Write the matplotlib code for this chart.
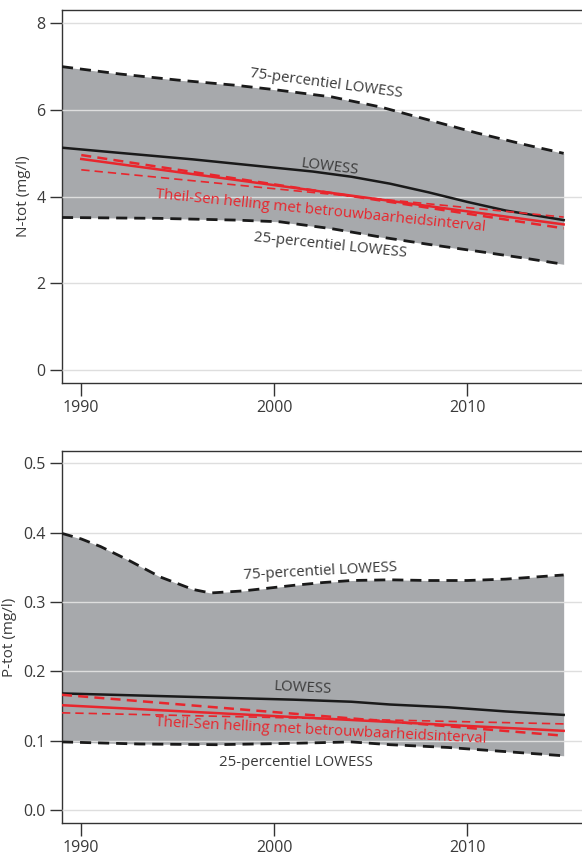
import numpy as np
import matplotlib.pyplot as plt

plt.rcParams['font.family'] = ['Open Sans', 'DejaVu Sans']

# N-tot (mg/l)
n_years_hi = [1989, 1992, 1995, 1998, 2000, 2003, 2005.5, 2008, 2010.5, 2013, 2015]
n_p75 = [7.0, 6.83, 6.69, 6.57, 6.47, 6.30, 6.07, 5.77, 5.47, 5.2, 5.0]
n_years_mid = [1989, 1992, 1995.8, 2000, 2002, 2004, 2006, 2008, 2010, 2012, 2015]
n_lowess = [5.13, 5.01, 4.86, 4.67, 4.58, 4.46, 4.30, 4.10, 3.88, 3.68, 3.46]
n_years_lo = [1989, 1994, 1998, 2000.3, 2003, 2005.5, 2008, 2010.7, 2013, 2015]
n_p25 = [3.52, 3.50, 3.46, 3.42, 3.26, 3.07, 2.9, 2.73, 2.58, 2.44]
n_ts_years = [1990, 2015]
n_ts = [4.87, 3.36]
n_ts_a = [4.96, 3.27]
n_ts_b = [4.62, 3.53]

# P-tot (mg/l)
p_years_hi = [1989, 1990, 1991, 1992.4, 1994.1, 1995.8, 1996.7, 1998.4, 2001, 2002.5,
              2004, 2006, 2008, 2010, 2012, 2015]
p_p75 = [0.399, 0.391, 0.380, 0.361, 0.336, 0.318, 0.313, 0.316, 0.324, 0.328,
         0.331, 0.332, 0.331, 0.331, 0.333, 0.339]
p_years_mid = [1989, 1993, 1997, 2001, 2004, 2006, 2009, 2012, 2015]
p_lowess = [0.168, 0.165, 0.162, 0.159, 0.156, 0.152, 0.148, 0.142, 0.137]
p_years_lo = [1989, 1993, 1997, 2001, 2004, 2006, 2009, 2012, 2015]
p_p25 = [0.098, 0.095, 0.094, 0.096, 0.098, 0.094, 0.090, 0.084, 0.078]
p_ts_years = [1989, 2015]
p_ts = [0.151, 0.114]
p_ts_a = [0.166, 0.107]
p_ts_b = [0.140, 0.124]

GREY = '#a7a9ac'
RED = '#e8262d'
TXT = '#3a3a3a'
FS = 10.8


def panel(ax, yr_hi, p75, yr_mid, low, yr_lo, p25, ts_yrs, ts, ts_a, ts_b):
    grid = np.linspace(1989, 2015, 300)
    hi = np.interp(grid, yr_hi, p75)
    lo = np.interp(grid, yr_lo, p25)
    ax.fill_between(grid, lo, hi, color=GREY, lw=0, zorder=1)
    ax.plot(yr_hi, p75, color='#1a1a1a', lw=2, ls=(0, (4, 2.5)), zorder=3)
    ax.plot(yr_lo, p25, color='#1a1a1a', lw=2, ls=(0, (4, 2.5)), zorder=3)
    ax.plot(yr_mid, low, color='#1a1a1a', lw=1.8, zorder=3)
    ax.plot(ts_yrs, ts, color=RED, lw=1.8, zorder=4)
    ax.plot(ts_yrs, ts_a, color=RED, lw=1.8, ls=(0, (4, 2.5)), zorder=4)
    ax.plot(ts_yrs, ts_b, color=RED, lw=1.2, ls=(0, (5, 3)), zorder=4)
    ax.set_xlim(1989, 2015.95)
    ax.set_xticks([1990, 2000, 2010])
    ax.spines['right'].set_visible(False)
    for s in ['left', 'bottom', 'top']:
        ax.spines[s].set_color('#333333')
        ax.spines[s].set_linewidth(1.0)
    ax.set_axisbelow(False)
    ax.grid(axis='y', color='#dedede', lw=1.0)
    ax.tick_params(axis='both', length=9, width=1, color='#333333',
                   labelcolor=TXT, labelsize=11.5, pad=3)


fig = plt.figure(figsize=(5.82, 8.57), dpi=100)
ax1 = fig.add_axes([0.1065, 0.553, 0.8935, 0.435])
ax2 = fig.add_axes([0.1065, 0.0397, 0.8935, 0.4341])

panel(ax1, n_years_hi, n_p75, n_years_mid, n_lowess, n_years_lo, n_p25,
      n_ts_years, n_ts, n_ts_a, n_ts_b)
ax1.set_ylim(-0.3, 8.3)
ax1.set_yticks([0, 2, 4, 6, 8])
ax1.set_ylabel('N-tot (mg/l)', color=TXT, fontsize=11, labelpad=4)

ax1.text(2002.7, 6.61, '75-percentiel LOWESS', rotation=-7.5, color=TXT,
         fontsize=FS, ha='center', va='center')
ax1.text(2002.9, 4.68, 'LOWESS', rotation=-7, color=TXT,
         fontsize=FS, ha='center', va='center')
ax1.text(2002.4, 3.66, 'Theil-Sen helling met betrouwbaarheidsinterval',
         rotation=-5.7, color=RED, fontsize=FS, ha='center', va='center')
ax1.text(2002.9, 2.88, '25-percentiel LOWESS', rotation=-5.9, color=TXT,
         fontsize=FS, ha='center', va='center')

panel(ax2, p_years_hi, p_p75, p_years_mid, p_lowess, p_years_lo, p_p25,
      p_ts_years, p_ts, p_ts_a, p_ts_b)
ax2.set_ylim(-0.019, 0.518)
ax2.set_yticks([0.0, 0.1, 0.2, 0.3, 0.4, 0.5])
ax2.set_yticklabels(['0.0', '0.1', '0.2', '0.3', '0.4', '0.5'])
ax2.set_ylabel('P-tot (mg/l)', color=TXT, fontsize=11, labelpad=4)

ax2.text(2002.4, 0.344, '75-percentiel LOWESS', rotation=3, color=TXT,
         fontsize=FS, ha='center', va='center')
ax2.text(2001.5, 0.176, 'LOWESS', rotation=-3, color=TXT,
         fontsize=FS, ha='center', va='center')
ax2.text(2002.4, 0.114, 'Theil-Sen helling met betrouwbaarheidsinterval',
         rotation=-2.9, color=RED, fontsize=FS, ha='center', va='center')
ax2.text(2001.1, 0.069, '25-percentiel LOWESS', rotation=0, color=TXT,
         fontsize=FS, ha='center', va='center')

fig.savefig('out.png', dpi=100)
